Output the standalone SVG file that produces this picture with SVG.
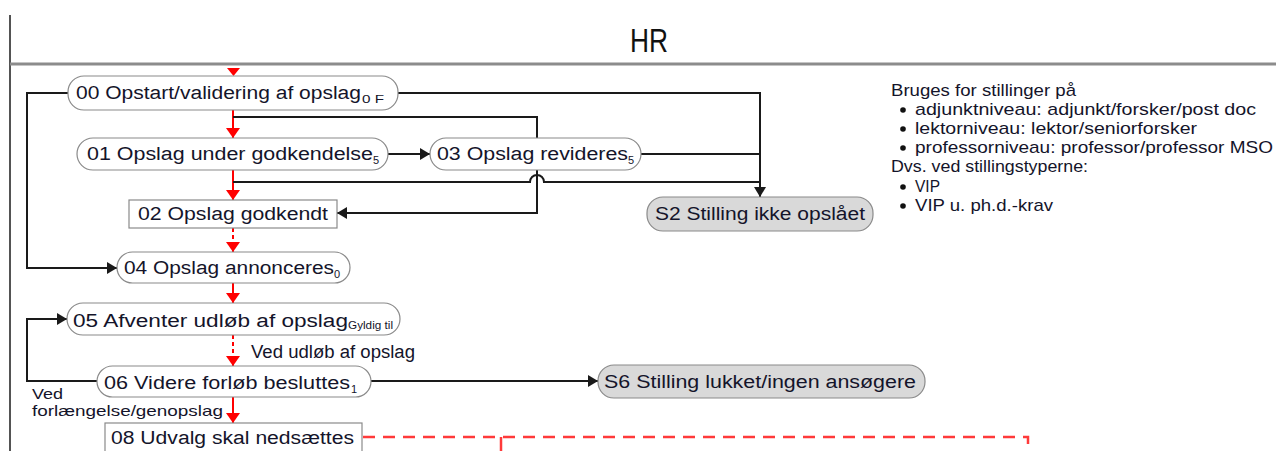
<svg xmlns="http://www.w3.org/2000/svg" width="1276" height="451" viewBox="0 0 1276 451">
  <style>
    .t { font-family: "Liberation Sans", Arial, sans-serif; font-size: 18px; fill: #14142a; }
    .lbl { font-family: "Liberation Sans", Arial, sans-serif; font-size: 15px; fill: #14142a; }
    .sub { font-family: "Liberation Sans", Arial, sans-serif; font-size: 11px; fill: #14142a; }
    .note { font-family: "Liberation Sans", Arial, sans-serif; font-size: 17px; fill: #14142a; }
    .title { font-family: "Liberation Sans", Arial, sans-serif; font-size: 34px; fill: #111; }
    .state { fill: #ffffff; stroke: #8a8a8a; stroke-width: 1.2; }
    .end { fill: #d9d9d9; stroke: #8a8a8a; stroke-width: 1.2; }
    .box { fill: #ffffff; stroke: #8a8a8a; stroke-width: 1.2; }
    .flow { fill: none; stroke: #1a1a1a; stroke-width: 2; }
    .main { fill: none; stroke: #ff0000; stroke-width: 2; }
    .main-dash { fill: none; stroke: #ff0000; stroke-width: 2; stroke-dasharray: 4 3; }
    .next { fill: none; stroke: #ff3a3a; stroke-width: 2.5; stroke-dasharray: 12 8; }
  </style>
  <defs>
    <marker id="arrow" viewBox="0 0 10 12" refX="10" refY="6" markerWidth="10" markerHeight="12" markerUnits="userSpaceOnUse" orient="auto">
      <path d="M0,0 L10,6 L0,12 Z" fill="#1a1a1a"/>
    </marker>
    <marker id="arrow-red" viewBox="0 0 10 14" refX="10" refY="7" markerWidth="10" markerHeight="14" markerUnits="userSpaceOnUse" orient="auto">
      <path d="M0,0 L10,7 L0,14 Z" fill="#ff0000"/>
    </marker>
  </defs>

  <!-- swimlane frame -->
  <g id="lane">
    <line x1="10" y1="15" x2="10" y2="451" stroke="#1a1a1a" stroke-width="1.5"/>
    <line x1="10" y1="64" x2="1276" y2="64" stroke="#8c8c8c" stroke-width="3"/>
    <text class="title" x="630" y="52" textLength="38" lengthAdjust="spacingAndGlyphs">HR</text>
  </g>

  <!-- connectors -->
  <g id="connectors">
    <!-- main path (red) -->
    <path d="M227,68 L240,68 L233.5,76 Z" fill="#ff0000"/>
    <path class="main" d="M233,110 V138" marker-end="url(#arrow-red)"/>
    <path class="main" d="M233,170 V200" marker-end="url(#arrow-red)"/>
    <path class="main-dash" d="M233,228 V244"/>
    <path class="main" d="M233,244 V252" marker-end="url(#arrow-red)"/>
    <path class="main" d="M233,283 V303" marker-end="url(#arrow-red)"/>
    <path class="main-dash" d="M233,335 V357"/>
    <path class="main" d="M233,357 V366" marker-end="url(#arrow-red)"/>
    <path class="main" d="M233,397 V423" marker-end="url(#arrow-red)"/>

    <!-- side paths (black) -->
    <path class="flow" d="M68,93 H27 V268 H117" marker-end="url(#arrow)"/>
    <path class="flow" d="M398,93 H760 V197" marker-end="url(#arrow)"/>
    <path class="flow" d="M537,138 V117 H233"/>
    <path class="flow" d="M388,154 H430" marker-end="url(#arrow)"/>
    <path class="flow" d="M641,154 H760"/>
    <path class="flow" d="M233,182 H530 A7,7 0 0 1 544,182 H760"/>
    <path class="flow" d="M537,170 V213 H337" marker-end="url(#arrow)"/>
    <path class="flow" d="M97,381 H27 V319 H67" marker-end="url(#arrow)"/>
    <path class="flow" d="M371,381 H598" marker-end="url(#arrow)"/>

    <!-- onward to next lane -->
    <path class="next" d="M363,437 H1028 V451"/>
    <line x1="501" y1="437" x2="501" y2="451" stroke="#ff3a3a" stroke-width="2.5"/>

    <text class="t" x="251" y="358" textLength="164" lengthAdjust="spacingAndGlyphs">Ved udløb af opslag</text>
    <text class="lbl" x="32" y="399" textLength="31" lengthAdjust="spacingAndGlyphs">Ved</text>
    <text class="lbl" x="32" y="416" textLength="191" lengthAdjust="spacingAndGlyphs">forlængelse/genopslag</text>
  </g>

  <!-- states -->
  <g id="n00">
    <rect class="state" x="68" y="76" width="330" height="34" rx="16"/>
    <text class="t" x="76" y="99" textLength="285" lengthAdjust="spacingAndGlyphs">00 Opstart/validering af opslag</text>
    <text class="sub" x="362" y="103" textLength="22" lengthAdjust="spacingAndGlyphs">0 F</text>
  </g>
  <g id="n01">
    <rect class="state" x="77" y="138" width="311" height="32" rx="16"/>
    <text class="t" x="87" y="160" textLength="286" lengthAdjust="spacingAndGlyphs">01 Opslag under godkendelse</text>
    <text class="sub" x="373" y="164">5</text>
  </g>
  <g id="n03">
    <rect class="state" x="430" y="138" width="211" height="32" rx="16"/>
    <text class="t" x="437" y="160" textLength="191" lengthAdjust="spacingAndGlyphs">03 Opslag revideres</text>
    <text class="sub" x="628" y="164">5</text>
  </g>
  <g id="n02">
    <rect class="box" x="129" y="200" width="208" height="28"/>
    <text class="t" x="138" y="220" textLength="190" lengthAdjust="spacingAndGlyphs">02 Opslag godkendt</text>
  </g>
  <g id="s2">
    <rect class="end" x="647" y="197" width="226" height="34" rx="16"/>
    <text class="t" x="655" y="220" textLength="210" lengthAdjust="spacingAndGlyphs">S2 Stilling ikke opslået</text>
  </g>
  <g id="n04">
    <rect class="state" x="117" y="252" width="233" height="31" rx="15.5"/>
    <text class="t" x="124" y="274" textLength="210" lengthAdjust="spacingAndGlyphs">04 Opslag annonceres</text>
    <text class="sub" x="334" y="278">0</text>
  </g>
  <g id="n05">
    <rect class="state" x="67" y="303" width="333" height="32" rx="16"/>
    <text class="t" x="73" y="327" textLength="275" lengthAdjust="spacingAndGlyphs">05 Afventer udløb af opslag</text>
    <text class="sub" x="348" y="329" textLength="45" lengthAdjust="spacingAndGlyphs">Gyldig til</text>
  </g>
  <g id="n06">
    <rect class="state" x="97" y="366" width="274" height="31" rx="15.5"/>
    <text class="t" x="104" y="389" textLength="246" lengthAdjust="spacingAndGlyphs">06 Videre forløb besluttes</text>
    <text class="sub" x="351" y="393">1</text>
  </g>
  <g id="s6">
    <rect class="end" x="598" y="365" width="327" height="33" rx="16"/>
    <text class="t" x="604" y="388" textLength="312" lengthAdjust="spacingAndGlyphs">S6 Stilling lukket/ingen ansøgere</text>
  </g>
  <g id="n08">
    <rect class="box" x="105" y="423" width="257" height="32"/>
    <text class="t" x="111" y="444" textLength="243" lengthAdjust="spacingAndGlyphs">08 Udvalg skal nedsættes</text>
  </g>

  <!-- scope note -->
  <g id="note">
    <text class="note" x="891" y="96" textLength="185" lengthAdjust="spacingAndGlyphs">Bruges for stillinger på</text>
    <circle cx="903" cy="110" r="2.8" fill="#111"/>
    <text class="note" x="915" y="115" textLength="341" lengthAdjust="spacingAndGlyphs">adjunktniveau: adjunkt/forsker/post doc</text>
    <circle cx="903" cy="129" r="2.8" fill="#111"/>
    <text class="note" x="915" y="134" textLength="282" lengthAdjust="spacingAndGlyphs">lektorniveau: lektor/seniorforsker</text>
    <circle cx="903" cy="148" r="2.8" fill="#111"/>
    <text class="note" x="915" y="153" textLength="358" lengthAdjust="spacingAndGlyphs">professorniveau: professor/professor MSO</text>
    <text class="note" x="891" y="172" textLength="197" lengthAdjust="spacingAndGlyphs">Dvs. ved stillingstyperne:</text>
    <circle cx="903" cy="187" r="2.8" fill="#111"/>
    <text class="note" x="915" y="192" textLength="25" lengthAdjust="spacingAndGlyphs">VIP</text>
    <circle cx="903" cy="206" r="2.8" fill="#111"/>
    <text class="note" x="915" y="211" textLength="138" lengthAdjust="spacingAndGlyphs">VIP u. ph.d.-krav</text>
  </g>
</svg>
